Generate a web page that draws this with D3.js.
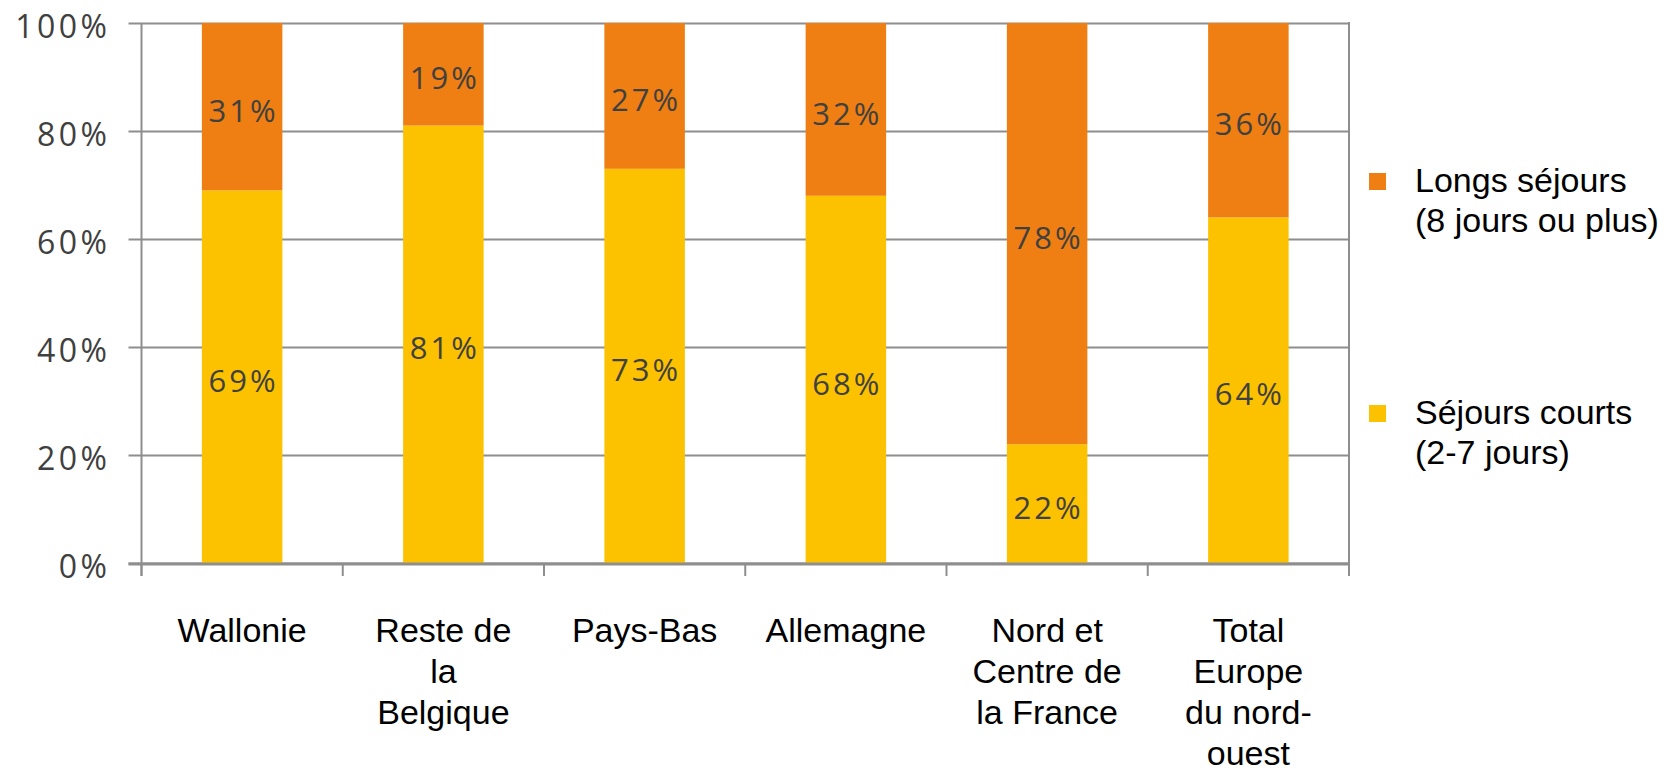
<!DOCTYPE html>
<html>
<head>
<meta charset="utf-8">
<script src="https://cdn.jsdelivr.net/npm/d3@7"></script>
<style>
  body { margin: 0; background: #fff; }
  svg { display: block; }
</style>
</head>
<body>
<script>
// DATA
const categories = ["Wallonie", "Reste de la Belgique", "Pays-Bas", "Allemagne", "Nord et Centre de la France", "Total Europe du nord-ouest"];
const categoryLines = [["Wallonie"], ["Reste de", "la", "Belgique"], ["Pays-Bas"], ["Allemagne"], ["Nord et", "Centre de", "la France"], ["Total", "Europe", "du nord-", "ouest"]];
const sejoursCourts = [69, 81, 73, 68, 22, 64];   // % séjours courts (2-7 jours)
const longsSejours = [31, 19, 27, 32, 78, 36];    // % longs séjours (8 jours ou plus)
const yTicks = [0, 20, 40, 60, 80, 100];
const seriesKeys = ["courts", "longs"];
const legendLines = {
  longs: ["Longs séjours", "(8 jours ou plus)"],
  courts: ["Séjours courts", "(2-7 jours)"]
};

// Layout
const width = 1668;
const height = 771;
const plot = {left: 141.5, right: 1349, top: 23, bottom: 563};
const colors = {courts: "#FCC200", longs: "#EF7F12"};
const axisColor = "#8e8e8e";
const labelFont = "'Open Sans', sans-serif";
const textFont = "'Liberation Sans', Arial, sans-serif";

const svg = d3.select("body")
  .append("svg")
  .attr("width", width)
  .attr("height", height);

// Table built from arrays
const table = categories.map((c, i) => ({cat: c, courts: sejoursCourts[i], longs: longsSejours[i]}));
const stacked = d3.stack().keys(seriesKeys)(table);

// Scales
const x = d3.scaleBand()
  .domain(categories)
  .range([plot.left, plot.right])
  .paddingInner(0.6)
  .paddingOuter(0.3);

const y = d3.scaleLinear()
  .domain([0, 100])
  .range([plot.bottom, plot.top]);

// Gridlines (also serve as outward ticks on the left)
svg.append("g")
  .attr("class", "grid")
  .attr("transform", `translate(${plot.left},0)`)
  .call(d3.axisLeft(y).tickValues(yTicks).tickSize(-(plot.right - plot.left)).tickFormat(""))
  .call(g => g.select(".domain").remove())
  .call(g => g.selectAll(".tick line")
    .attr("x1", -13)
    .attr("stroke", axisColor)
    .attr("stroke-width", 2));

// Y axis labels
svg.append("g")
  .attr("class", "axis y")
  .attr("transform", `translate(${plot.left},0)`)
  .call(d3.axisLeft(y).tickValues(yTicks).tickSize(0).tickPadding(31).tickFormat(d => d + "%"))
  .call(g => g.select(".domain").remove())
  .call(g => g.selectAll(".tick text")
    .attr("dy", "0.36em")
    .attr("y", 3)
    .attr("fill", "#404040")
    .style("font-family", labelFont)
    .style("font-size", "32px")
    .style("letter-spacing", "3.5px"));

// Bars
const series = svg.append("g")
  .attr("class", "bars")
  .selectAll("g")
  .data(stacked)
  .join("g")
  .attr("fill", d => colors[d.key]);

series.selectAll("rect")
  .data(d => d)
  .join("rect")
  .attr("x", d => x(d.data.cat))
  .attr("width", x.bandwidth())
  .attr("y", d => y(d[1]))
  .attr("height", d => y(d[0]) - y(d[1]));

// Data labels
series.selectAll("text")
  .data(d => d.map(v => ({v: v, key: d.key})))
  .join("text")
  .attr("x", d => x(d.v.data.cat) + x.bandwidth() / 2 + 1.5)
  .attr("y", d => (y(d.v[0]) + y(d.v[1])) / 2 + 4)
  .attr("dy", "0.36em")
  .attr("text-anchor", "middle")
  .attr("fill", "#404040")
  .style("font-family", labelFont)
  .style("font-size", "31px")
  .style("letter-spacing", "3px")
  .text(d => (d.v[1] - d.v[0]) + "%");

// Frame: left axis, bottom axis, right border
const frame = svg.append("g").attr("class", "frame")
  .attr("stroke", axisColor);

frame.append("line")
  .attr("x1", plot.left).attr("x2", plot.left)
  .attr("y1", plot.top).attr("y2", plot.bottom + 13)
  .attr("stroke-width", 2);

frame.append("line")
  .attr("x1", plot.right).attr("x2", plot.right)
  .attr("y1", plot.top - 1).attr("y2", plot.bottom + 13)
  .attr("stroke-width", 2);

frame.append("line")
  .attr("x1", plot.left - 13).attr("x2", plot.right)
  .attr("y1", plot.bottom + 1).attr("y2", plot.bottom + 1)
  .attr("stroke-width", 3);

// X ticks at category boundaries
const gap = x.step() - x.bandwidth();
const boundaries = categories.map(c => x(c) - gap / 2).concat([x(categories[categories.length - 1]) + x.bandwidth() + gap / 2]);
frame.selectAll("line.xtick")
  .data(boundaries)
  .join("line")
  .attr("class", "xtick")
  .attr("x1", d => d).attr("x2", d => d)
  .attr("y1", plot.bottom).attr("y2", plot.bottom + 13)
  .attr("stroke-width", 2);

// X axis labels
svg.append("g")
  .attr("class", "axis x")
  .attr("transform", `translate(0,${plot.bottom})`)
  .call(d3.axisBottom(x).tickSize(0).tickFormat(""))
  .call(g => g.select(".domain").remove())
  .call(g => g.selectAll(".tick text").remove())
  .call(g => g.selectAll(".tick")
    .append("text")
    .attr("text-anchor", "middle")
    .attr("fill", "#000")
    .style("font-family", textFont)
    .style("font-size", "34px")
    .selectAll("tspan")
    .data((d, i) => categoryLines[categories.indexOf(d)])
    .join("tspan")
    .attr("x", 0)
    .attr("y", (d, i) => 79 + i * 41)
    .text(d => d));

// Legend
const legendItems = [
  {key: "longs", baseline: 192},
  {key: "courts", baseline: 424}
];
const legend = svg.append("g").attr("class", "legend");
const item = legend.selectAll("g")
  .data(legendItems)
  .join("g");

item.append("rect")
  .attr("x", 1369)
  .attr("y", d => d.baseline - 19)
  .attr("width", 17)
  .attr("height", 17)
  .attr("fill", d => colors[d.key]);

item.append("text")
  .style("font-family", textFont)
  .style("font-size", "34px")
  .attr("fill", "#000")
  .selectAll("tspan")
  .data(d => legendLines[d.key].map((t, i) => ({t: t, y: d.baseline + i * 40})))
  .join("tspan")
  .attr("x", 1415)
  .attr("y", d => d.y)
  .text(d => d.t);
</script>
</body>
</html>
